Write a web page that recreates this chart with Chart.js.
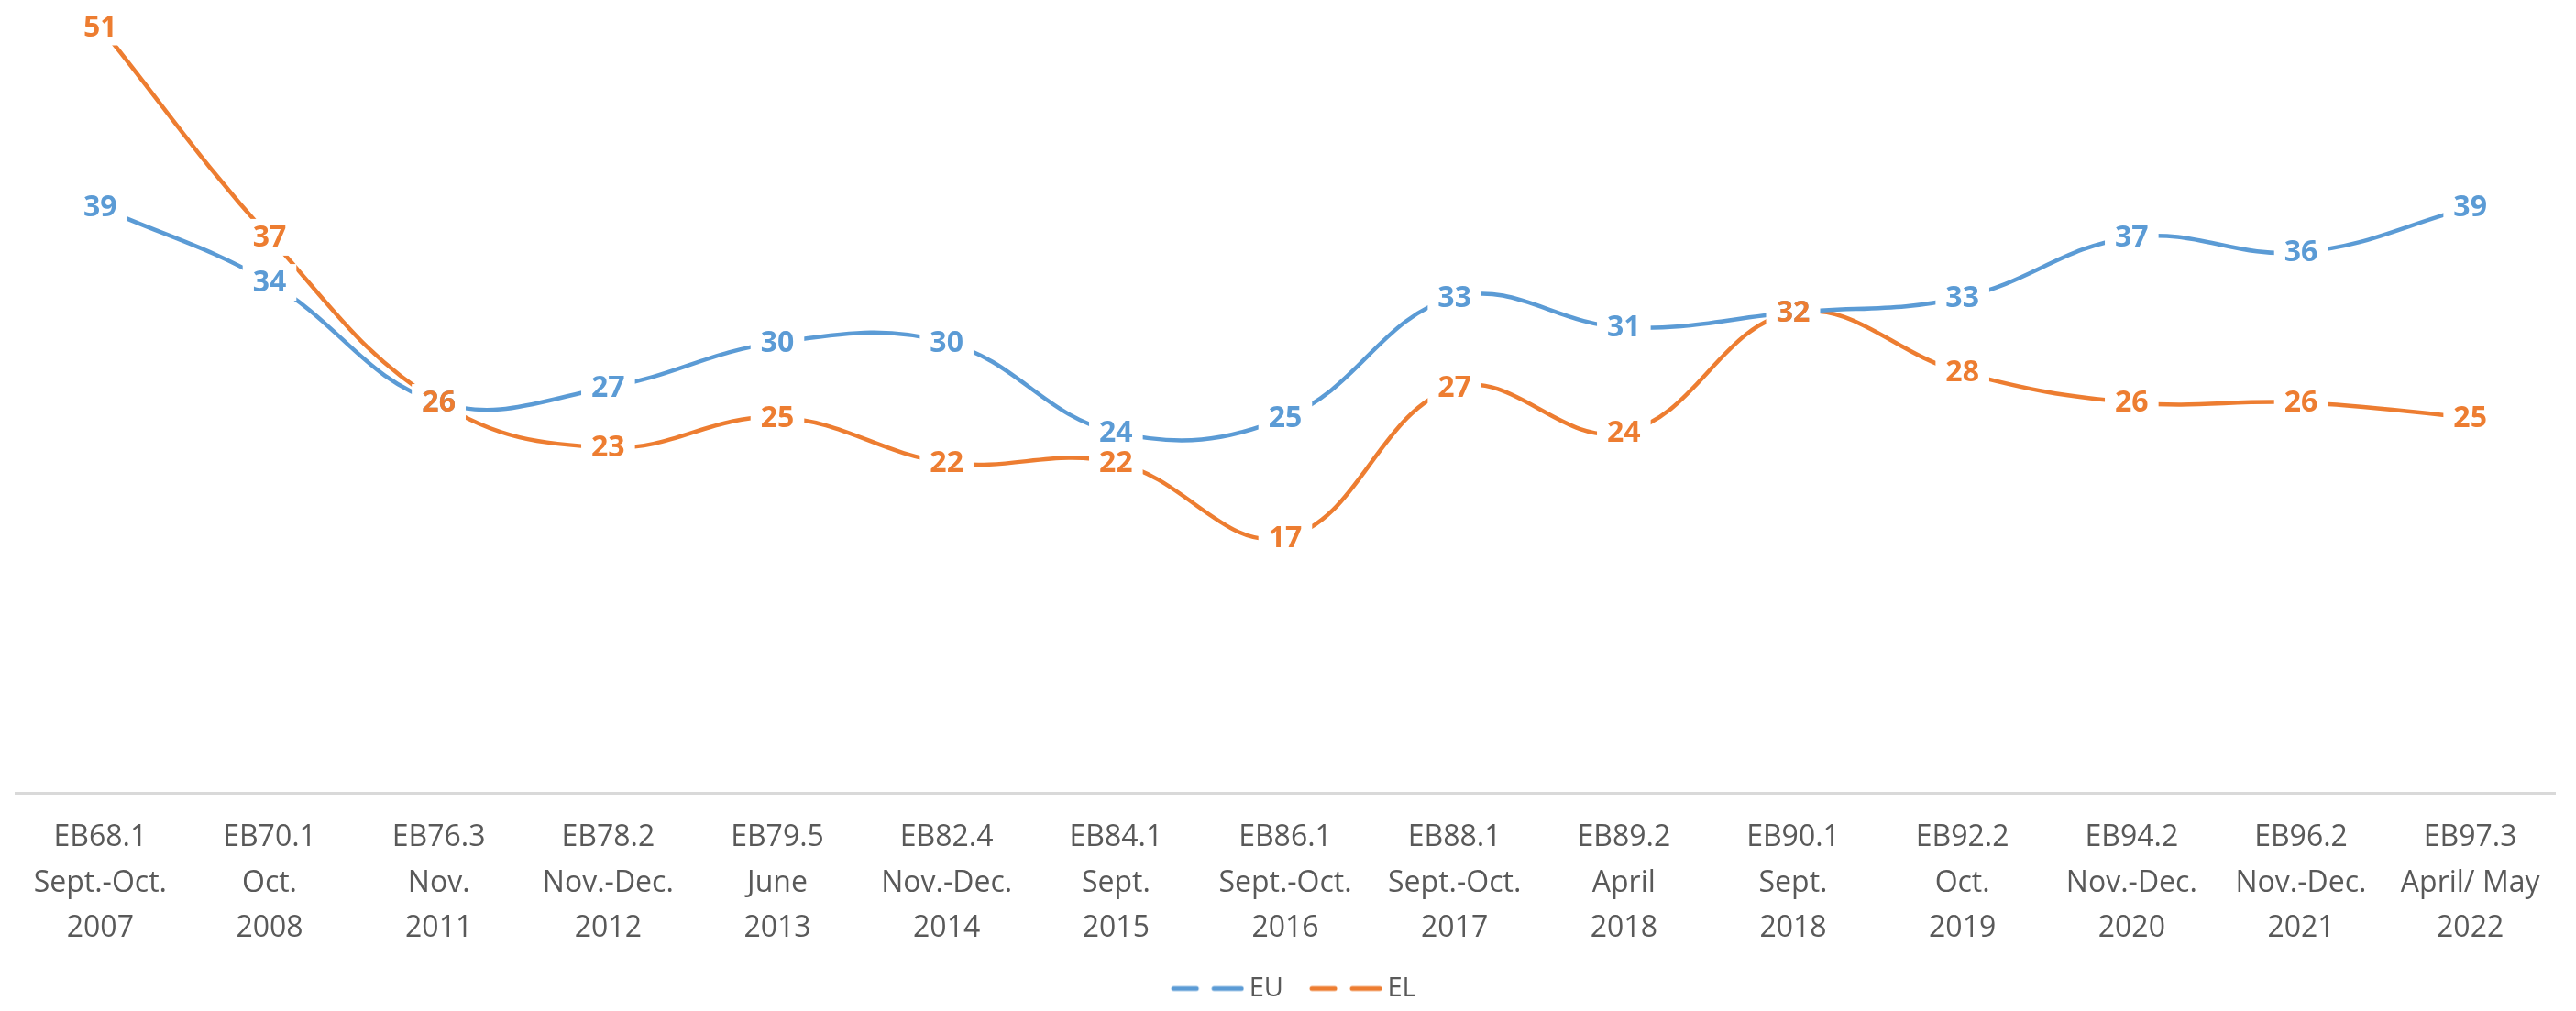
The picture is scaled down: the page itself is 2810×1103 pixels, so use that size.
<!DOCTYPE html>
<html>
<head>
<meta charset="utf-8">
<script src="https://cdn.jsdelivr.net/npm/chart.js@4"></script>
<style>
  body { margin: 0; background: #fff; }
</style>
</head>
<body>
<canvas id="trendChart" width="2810" height="1103"></canvas>
<script>
const waves = [
  ['EB68.1', 'Sept.-Oct.', '2007'],
  ['EB70.1', 'Oct.', '2008'],
  ['EB76.3', 'Nov.', '2011'],
  ['EB78.2', 'Nov.-Dec.', '2012'],
  ['EB79.5', 'June', '2013'],
  ['EB82.4', 'Nov.-Dec.', '2014'],
  ['EB84.1', 'Sept.', '2015'],
  ['EB86.1', 'Sept.-Oct.', '2016'],
  ['EB88.1', 'Sept.-Oct.', '2017'],
  ['EB89.2', 'April', '2018'],
  ['EB90.1', 'Sept.', '2018'],
  ['EB92.2', 'Oct.', '2019'],
  ['EB94.2', 'Nov.-Dec.', '2020'],
  ['EB96.2', 'Nov.-Dec.', '2021'],
  ['EB97.3', 'April/ May', '2022']
];
const euValues = [39, 34, 26, 27, 30, 30, 24, 25, 33, 31, 32, 33, 37, 36, 39];
const elValues = [51, 37, 26, 23, 25, 22, 22, 17, 27, 24, 32, 28, 26, 26, 25];

const BLUE = '#5B9BD5';
const ORANGE = '#ED7D31';
const GREY_TEXT = '#595959';

// legend sample "— —" drawn on a small canvas, used as pointStyle
function legendSample(color) {
  const c = document.createElement('canvas');
  c.width = 107;
  c.height = 8;
  const g = c.getContext('2d');
  g.strokeStyle = color;
  g.lineWidth = 5;
  g.lineCap = 'round';
  g.beginPath();
  g.moveTo(30, 4); g.lineTo(55, 4);
  g.moveTo(74, 4); g.lineTo(104, 4);
  g.stroke();
  return c;
}

// value labels sitting on the points, with a white box hiding the line
const pointLabels = {
  id: 'pointLabels',
  afterDatasetsDraw(chart) {
    const ctx = chart.ctx;
    ctx.save();
    ctx.font = 'bold 32px "Open Sans"';
    ctx.textAlign = 'center';
    ctx.textBaseline = 'middle';
    const items = [];
    chart.data.datasets.forEach((ds, i) => {
      chart.getDatasetMeta(i).data.forEach((pt, j) => {
        items.push({ x: pt.x, y: pt.y, text: String(ds.data[j]), color: ds.borderColor });
      });
    });
    ctx.fillStyle = '#fff';
    items.forEach(it => {
      const w = ctx.measureText(it.text).width + 22;
      ctx.fillRect(it.x - w / 2, it.y - 20, w, 40);
    });
    items.forEach(it => {
      ctx.fillStyle = it.color;
      ctx.fillText(it.text, it.x, it.y + 1);
    });
    ctx.restore();
  }
};

new Chart(document.getElementById('trendChart'), {
  type: 'line',
  data: {
    labels: waves,
    datasets: [
      {
        label: 'EU',
        data: euValues,
        borderColor: BLUE,
        backgroundColor: BLUE,
        borderWidth: 4.5,
        tension: 0.4,
        pointRadius: 0,
        pointStyle: legendSample(BLUE)
      },
      {
        label: 'EL',
        data: elValues,
        borderColor: ORANGE,
        backgroundColor: ORANGE,
        borderWidth: 4.5,
        tension: 0.4,
        pointRadius: 0,
        pointStyle: legendSample(ORANGE)
      }
    ]
  },
  options: {
    responsive: false,
    devicePixelRatio: 1,
    animation: false,
    layout: {
      padding: { left: 17, right: 23, top: 0, bottom: 0 }
    },
    plugins: {
      tooltip: { enabled: false },
      legend: {
        position: 'bottom',
        labels: {
          usePointStyle: true,
          pointStyleWidth: 89,
          padding: 10,
          color: GREY_TEXT,
          font: { family: '"Open Sans"', size: 29 }
        }
      }
    },
    scales: {
      x: {
        offset: true,
        grid: { display: false },
        border: { color: '#D9D9D9', width: 3 },
        ticks: {
          color: GREY_TEXT,
          maxRotation: 0,
          autoSkip: false,
          padding: 16,
          font: { family: '"Open Sans"', size: 32, lineHeight: 1.55 }
        }
      },
      y: {
        display: false,
        min: 0,
        max: 52.8
      }
    }
  },
  plugins: [pointLabels]
});
</script>
</body>
</html>
